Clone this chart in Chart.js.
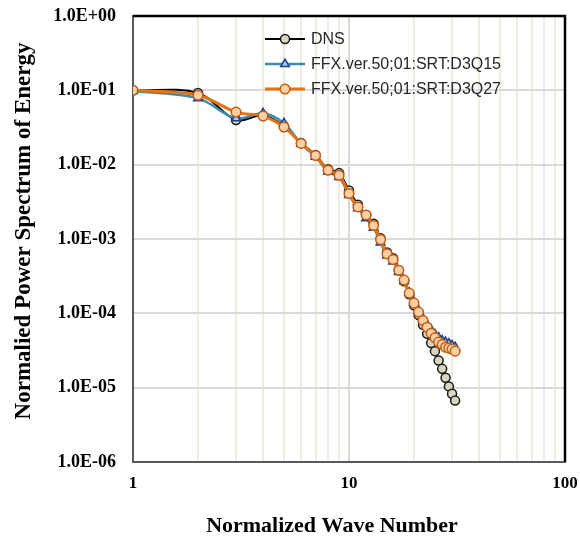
<!DOCTYPE html>
<html>
<head>
<meta charset="utf-8">
<title>Normalized power spectrum</title>
<script src="https://cdn.jsdelivr.net/npm/chart.js@4.4.1/dist/chart.umd.min.js"></script>
<style>
  html, body { margin: 0; padding: 0; background: #fff; }
  #wrap { width: 580px; height: 538px; position: relative; }
</style>
</head>
<body>
<div id="wrap"><canvas id="spectrum"></canvas></div>
<script>
// ===== Data =====
const waveNumbers = [1, 2, 3, 4, 5, 6, 7, 8, 9, 10, 11, 12, 13, 14, 15, 16,
  17, 18, 19, 20, 21, 22, 23, 24, 25, 26, 27, 28, 29, 30, 31];

const dnsValues = [0.100, 0.092, 0.040, 0.046, 0.033, 0.0195, 0.0135, 0.0087,
  0.0077, 0.0045, 0.0029, 0.0021, 0.0016, 0.00102, 0.00066, 0.00055, 0.00038,
  0.00027, 0.000180, 0.000128, 0.000095, 0.000070, 0.000053, 0.000040,
  0.000031, 0.0000232, 0.0000179, 0.0000136, 0.0000104, 0.0000083, 0.0000067];

const d3q15Values = [0.098, 0.078, 0.042, 0.049, 0.036, 0.019, 0.0128, 0.0080,
  0.0068, 0.0039, 0.0026, 0.0019, 0.00142, 0.00090, 0.00060, 0.00050, 0.00036,
  0.00027, 0.000190, 0.000140, 0.000108, 0.000085, 0.000070, 0.000060,
  0.000052, 0.000047, 0.000043, 0.000041, 0.000039, 0.000037, 0.000035];

const d3q27Values = [0.100, 0.086, 0.051, 0.045, 0.032, 0.0193, 0.0133, 0.0084,
  0.0072, 0.0041, 0.0027, 0.0021, 0.00152, 0.00098, 0.00063, 0.00053, 0.00038,
  0.00028, 0.000187, 0.000137, 0.000104, 0.000080, 0.000065, 0.000054,
  0.000047, 0.000041, 0.000038, 0.000035, 0.000034, 0.000033, 0.000031];

const seriesNames = ['DNS', 'FFX.ver.50;01:SRT:D3Q15', 'FFX.ver.50;01:SRT:D3Q27'];

// tick positions: decades on y, 1-2-...-9 per decade on x
const yTickValues = [1e-6, 1e-5, 1e-4, 1e-3, 1e-2, 1e-1, 1];
const xTickValues = [1, 2, 3, 4, 5, 6, 7, 8, 9, 10, 20, 30, 40, 50, 60, 70, 80, 90, 100];

const xTitle = 'Normalized Wave Number';
const yTitle = 'Normalied Power Spectrum of Energy';

const serif = 'Liberation Serif, Times New Roman, serif';

function toPoints(values) {
  return waveNumbers.map((k, i) => ({ x: k, y: values[i] }));
}

function isDecade(v) {
  const e = Math.log10(v);
  return Math.abs(e - Math.round(e)) < 1e-9;
}

// 1.0E-03 style labels
function sciLabel(v) {
  const e = Math.round(Math.log10(v));
  const m = v / Math.pow(10, e);
  const sign = e < 0 ? '-' : '+';
  return m.toFixed(1) + 'E' + sign + String(Math.abs(e)).padStart(2, '0');
}

// ===== Plugins =====
// black frame on top/right, legend inside the plot, axis titles
const frameAndLegend = {
  id: 'frameAndLegend',
  afterDraw(chart) {
    const ctx = chart.ctx;
    const area = chart.chartArea;
    ctx.save();

    ctx.strokeStyle = '#000';
    ctx.lineWidth = 2.5;
    ctx.beginPath();
    ctx.moveTo(area.left, area.top);
    ctx.lineTo(area.right, area.top);
    ctx.lineTo(area.right, area.bottom);
    ctx.stroke();

    chart.data.datasets.forEach((ds, i) => {
      const y = area.top + 23 + i * 25;
      const x0 = area.left + 132;
      ctx.strokeStyle = ds.borderColor;
      ctx.lineWidth = ds.borderWidth;
      ctx.beginPath();
      ctx.moveTo(x0, y);
      ctx.lineTo(x0 + 40, y);
      ctx.stroke();

      ctx.fillStyle = ds.pointBackgroundColor;
      ctx.strokeStyle = ds.pointBorderColor;
      ctx.lineWidth = ds.pointBorderWidth;
      Chart.helpers.drawPoint(ctx, {
        pointStyle: ds.pointStyle,
        radius: ds.pointRadius,
        rotation: 0,
        borderWidth: ds.pointBorderWidth
      }, x0 + 20, y);

      ctx.fillStyle = '#262626';
      ctx.font = '16px "Liberation Sans", Arial, sans-serif';
      ctx.textAlign = 'left';
      ctx.textBaseline = 'middle';
      ctx.fillText(ds.label, x0 + 46, y + 1);
    });

    ctx.fillStyle = '#000';
    ctx.textAlign = 'center';
    ctx.textBaseline = 'middle';
    ctx.font = 'bold 22px ' + serif;
    ctx.fillText(xTitle, 332, chart.height - 12);

    ctx.font = 'bold 23px ' + serif;
    ctx.translate(24, 231);
    ctx.rotate(-Math.PI / 2);
    ctx.fillText(yTitle, 0, 0);

    ctx.restore();
  }
};

// ===== Chart =====
const ctx = document.getElementById('spectrum').getContext('2d');
new Chart(ctx, {
  type: 'line',
  data: {
    datasets: [
      {
        label: seriesNames[0],
        data: toPoints(dnsValues),
        order: 2,
        borderColor: '#000000',
        borderWidth: 2,
        pointStyle: 'circle',
        pointRadius: 4.5,
        pointBorderWidth: 1.5,
        pointBackgroundColor: '#d9d6c0',
        pointBorderColor: '#1a1a1a'
      },
      {
        label: seriesNames[1],
        data: toPoints(d3q15Values),
        order: 1,
        borderColor: '#3a8db0',
        borderWidth: 2.5,
        pointStyle: 'triangle',
        pointRadius: 5,
        pointBorderWidth: 1.5,
        pointBackgroundColor: '#a9c8e8',
        pointBorderColor: '#1d3f92'
      },
      {
        label: seriesNames[2],
        data: toPoints(d3q27Values),
        order: 0,
        borderColor: '#e8720f',
        borderWidth: 3,
        pointStyle: 'circle',
        pointRadius: 4.8,
        pointBorderWidth: 1.5,
        pointBackgroundColor: '#fbcfa6',
        pointBorderColor: '#c45c12'
      }
    ]
  },
  options: {
    responsive: true,
    maintainAspectRatio: false,
    animation: false,
    events: [],
    layout: { padding: { top: 16, right: 15, left: 0, bottom: 0 } },
    elements: { line: { tension: 0.35, fill: false } },
    plugins: {
      legend: { display: false },
      tooltip: { enabled: false }
    },
    scales: {
      x: {
        type: 'logarithmic',
        min: 1,
        max: 100,
        afterBuildTicks: axis => { axis.ticks = xTickValues.map(v => ({ value: v })); },
        afterFit: scale => {
          scale.height = 76;
          scale.paddingLeft = 0;
          scale.paddingRight = 0;
        },
        ticks: {
          autoSkip: false,
          maxRotation: 0,
          padding: 11,
          color: '#000',
          font: { family: serif, weight: 'bold', size: 17 },
          callback: v => isDecade(v) ? String(v) : ''
        },
        grid: {
          drawTicks: false,
          lineWidth: 2,
          color: c => (c.tick && isDecade(c.tick.value)) ? '#d9d9d9' : '#efebdf'
        },
        border: { color: '#595959', width: 2 }
      },
      y: {
        type: 'logarithmic',
        min: 1e-6,
        max: 1,
        afterBuildTicks: axis => { axis.ticks = yTickValues.map(v => ({ value: v })); },
        afterFit: scale => {
          scale.width = 133;
          scale.paddingTop = 0;
          scale.paddingBottom = 0;
        },
        ticks: {
          padding: 17,
          color: '#000',
          font: { family: serif, weight: 'bold', size: 18 },
          callback: v => sciLabel(v)
        },
        grid: { drawTicks: false, lineWidth: 2, color: '#d9d9d9' },
        border: { color: '#595959', width: 2 }
      }
    }
  },
  plugins: [frameAndLegend]
});
</script>
</body>
</html>
